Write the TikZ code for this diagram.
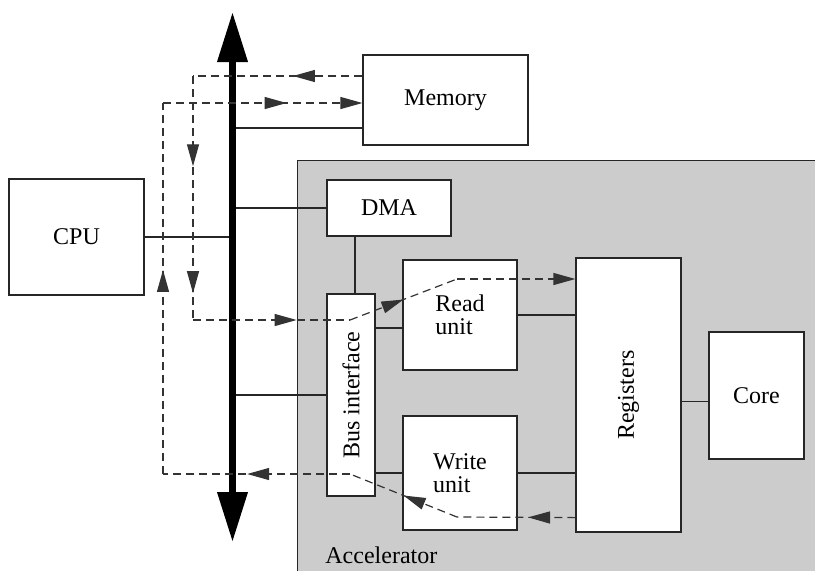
\documentclass[tikz,border=0pt]{standalone}
\usepackage{fontspec}
\setmainfont{Liberation Serif}
\usetikzlibrary{arrows.meta, positioning, decorations.markings}

\begin{document}
\begin{tikzpicture}[
    x=0.5pt, y=-0.5pt,
    every node/.style={align=center, font=\fontsize{12}{11.5}\selectfont},
    block/.style={rectangle, draw=black!85, fill=white, line width=0.6pt, inner sep=0pt},
    accel/.style={rectangle, draw=black!85, fill=black!20, line width=0.6pt},
    wire/.style={draw=black!85, line width=0.6pt},
    bus/.style={line width=3.5pt, {Triangle[length=25pt, width=14.5pt]}-{Triangle[length=25pt, width=14.5pt]}},
    flow/.style={draw=black!80, line width=0.6pt, dash pattern=on 4pt off 2.5pt},
    tip/.style={postaction={decorate, decoration={markings, mark=at position #1 with {\arrow{Triangle[length=11pt, width=6pt]}}}}},
    endtip/.style={-{Triangle[length=11pt, width=6pt]}}
]
\useasboundingbox (0,0) rectangle (815,570);
\clip (0,0) rectangle (815,570);

% Nodes
\node[accel, anchor=north west, minimum width=270pt, minimum height=220pt] (acc) at (297,160) {};
\node[anchor=base west, inner sep=0pt] (acclabel) at (325,563) {Accelerator};

\node[block, minimum width=67.5pt, minimum height=58pt] (cpu) at (76.5,237) {CPU};
\node[block, minimum width=82.5pt, minimum height=45pt] (mem) at (445.5,100) {Memory};
\node[block, minimum width=62pt, minimum height=28pt] (dma) at (389,208) {DMA};
\node[block, minimum width=24pt, minimum height=101pt] (busif) at (351,395) {\rotatebox{90}{Bus interface}};
\node[block, align=left, minimum width=57pt, minimum height=55pt] (read) at (460,315) {Read\\unit};
\node[block, align=left, minimum width=57pt, minimum height=57pt] (write) at (460,473) {Write\\unit};
\node[block, minimum width=52.5pt, minimum height=137pt] (reg) at (628.5,395) {\rotatebox{90}{Registers}};
\node[block, minimum width=47.5pt, minimum height=63.5pt] (core) at (756.5,395.5) {Core};

\coordinate (bustop) at (232.5,12);
\coordinate (busbot) at (232.5,542);
\coordinate (bus) at (232.5,0);

% Connections
\draw[wire] (cpu.east) -- (cpu.east -| bus);
\draw[wire] ([yshift=-14pt]mem.west) -- ([yshift=-14pt]mem.west -| bus);
\draw[wire] (dma.west) -- (dma.west -| bus);
\draw[wire] ([xshift=2pt]busif.north) -- ([xshift=2pt]busif.north |- dma.south);
\draw[wire] (busif.west) -- (busif.west -| bus);
\draw[wire] ([yshift=-6.5pt]read.west) -- ([yshift=-6.5pt]read.west -| busif.east);
\draw[wire] (write.west) -- (write.west -| busif.east);
\draw[wire] (read.east) -- (read.east -| reg.west);
\draw[wire] (write.east) -- (write.east -| reg.west);
\draw[wire] ([yshift=-3pt]core.west) -- ([yshift=-3pt]core.west -| reg.east);

\draw[bus] (bustop) -- (busbot);

% Read transfer
\coordinate (rd0) at ([yshift=12pt]mem.west);
\coordinate (rd1) at (193,76);
\coordinate (rd2) at (193,320);
\coordinate (rd3) at (350,320);
\coordinate (rd4) at (457,279);
\coordinate (rd5) at (rd4 -| reg.west);
\draw[flow, tip=0.41] (rd0) -- (rd1);
\draw[flow, tip=0.37, tip=0.89] (rd1) -- (rd2);
\draw[flow, tip=0.66] (rd2) -- (rd3);
\draw[flow, tip=0.5] (rd3) -- (rd4);
\draw[flow, endtip] (rd4) -- (rd5);

% Write transfer
\coordinate (wr0) at ([yshift=7.5pt]reg.south west);
\coordinate (wr1) at (457,517);
\coordinate (wr2) at (350,474);
\coordinate (wr3) at (163,474);
\coordinate (wr4) at (163,103);
\coordinate (wr5) at (wr4 -| mem.west);
\draw[flow, tip=0.4] (wr0) -- (wr1);
\draw[flow, tip=0.5] (wr1) -- (wr2);
\draw[flow, tip=0.55] (wr2) -- (wr3);
\draw[flow, tip=0.55] (wr3) -- (wr4);
\draw[flow, tip=0.62, endtip] (wr4) -- (wr5);

\end{tikzpicture}
\end{document}
